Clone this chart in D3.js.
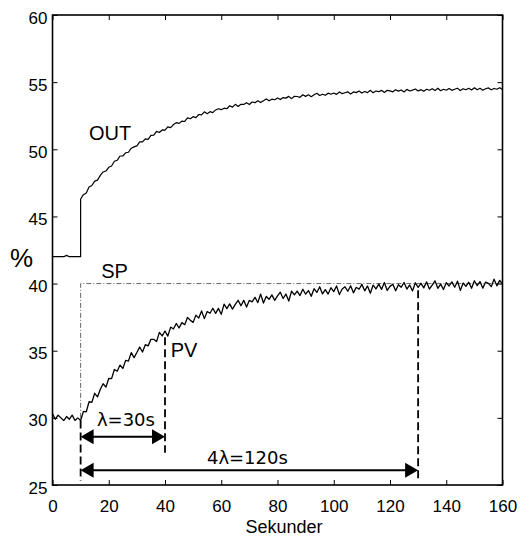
<!DOCTYPE html>
<html>
<head>
<meta charset="utf-8">
<script src="https://cdn.jsdelivr.net/npm/d3@7"></script>
<style>
  html, body { margin: 0; padding: 0; background: #fff; }
  svg { display: block; }
</style>
</head>
<body>
<script>
// ---------------- DATA ----------------
const xTicks = [0, 20, 40, 60, 80, 100, 120, 140, 160];
const yTicks = [25, 30, 35, 40, 45, 50, 55, 60];
const xLabel = "Sekunder";
const yLabel = "%";

// PV, one sample per second, t = 0..10 (before the step)
const pvPre = [30.3, 29.9, 30.2, 30.0, 29.8, 30.1, 29.9, 30.2, 29.8, 30.0, 29.8];
// PV, t = 11..160
const pvPost = [
  30.48,30.44,31.20,31.15,31.83,31.56,32.13,32.54,32.29,32.93,
  32.92,33.60,33.47,33.93,33.68,34.28,34.23,34.86,34.49,34.87,
  35.28,34.90,35.45,35.36,35.85,35.85,35.68,36.37,36.10,36.47,
  36.09,36.76,36.62,37.03,36.69,37.09,36.94,37.48,37.27,37.11,
  37.65,37.43,37.96,37.39,37.92,37.79,38.16,37.78,38.15,37.71,
  38.47,38.13,38.49,38.10,38.45,38.75,38.35,38.75,38.25,38.75,
  38.64,38.98,38.58,39.22,38.55,39.04,38.83,39.16,38.75,39.08,
  39.36,38.89,39.22,38.70,39.43,39.16,39.43,39.11,39.58,39.21,
  39.48,39.05,39.62,39.34,39.76,39.23,39.55,39.22,39.69,39.40,
  39.82,39.18,39.60,39.76,39.43,39.84,39.31,39.72,39.58,39.94,
  39.46,39.82,39.28,39.89,39.60,39.96,39.57,40.08,39.49,39.79,
  39.95,39.46,39.92,39.73,40.08,39.59,39.90,39.45,40.06,39.72,
  40.02,39.68,40.13,39.59,39.89,40.20,39.65,39.96,39.56,40.07,
  39.82,40.13,39.73,40.18,39.49,40.04,39.79,40.10,39.65,40.21,
  39.85,40.15,39.66,40.11,40.02,39.77,40.33,39.83,40.24,39.95
];

// OUT, t = 0..10 (before the step)
const outPre = [42.0, 42.0, 42.0, 42.0, 42.0, 42.1, 42.0, 42.0, 42.0, 42.0, 42.0];
// OUT, t = 10..160 (after the step)
const outPost = [
  46.30,
  46.62,46.75,47.19,47.30,47.63,47.70,48.06,48.31,48.38,48.66,
  48.76,49.11,49.18,49.50,49.50,49.74,49.78,50.08,50.18,50.25,
  50.55,50.55,50.77,50.74,51.03,51.06,51.33,51.25,51.44,51.43,
  51.67,51.61,51.84,51.98,51.93,52.09,52.07,52.34,52.27,52.43,
  52.36,52.59,52.56,52.79,52.65,52.80,52.73,52.93,53.02,52.95,
  53.06,53.02,53.24,53.14,53.35,53.19,53.35,53.34,53.47,53.33,
  53.52,53.47,53.62,53.48,53.62,53.75,53.61,53.73,53.69,53.82,
  53.70,53.85,53.81,53.94,53.77,53.95,53.93,53.87,54.06,53.94,
  54.06,53.92,54.06,54.17,54.01,54.10,54.02,54.18,54.10,54.19,
  54.09,54.27,54.14,54.21,54.28,54.11,54.27,54.22,54.34,54.19,
  54.30,54.22,54.39,54.21,54.34,54.29,54.39,54.23,54.39,54.35,
  54.28,54.44,54.33,54.42,54.27,54.46,54.34,54.41,54.49,54.34,
  54.44,54.33,54.47,54.40,54.51,54.37,54.55,54.36,54.47,54.40,
  54.52,54.39,54.47,54.55,54.37,54.51,54.43,54.54,54.42,54.58,
  54.43,54.54,54.40,54.51,54.57,54.43,54.53,54.47,54.59,54.46
];

// Setpoint: step from 30 to 40 at t = 10
const spTime = [10, 10, 160];
const spValue = [30, 40, 40];

// Vertical dashed markers (time, top value, bottom value)
const markTime = [10, 40, 130];
const markTop = [29.8, 36.0, 39.5];
const markBottom = [25.3, 27.4, 25.5];

// Double arrows (start time, end time, level)
const arrowFrom = [10, 10];
const arrowTo = [40, 130];
const arrowLevel = [28.6, 26.1];
const arrowText = ["λ=30s", "4λ=120s"];
const arrowTextT = [26.1, 69.3];
const arrowTextV = [29.4, 26.55];

// Curve labels
const curveLabels = ["OUT", "SP", "PV"];
const curveLabelT = [13.0, 17.3, 42.0];
const curveLabelV = [50.69, 40.42, 34.53];

// ---------------- LAYOUT ----------------
const W = 522, H = 538;
const mLeft = 52.5, mRight = 502.5, mTop = 15, mBottom = 485;
const FONT = "Liberation Sans, Arial, Helvetica, sans-serif";

const svg = d3.select("body").append("svg")
  .attr("width", W).attr("height", H)
  .style("font-family", FONT);

const x = d3.scaleLinear().domain([0, 160]).range([mLeft, mRight]);
const y = d3.scaleLinear().domain([25, 60]).range([mBottom, mTop]);

// axes (inward ticks, MATLAB style)
const axB = svg.append("g").attr("transform", `translate(0,${mBottom})`)
  .call(d3.axisBottom(x).tickValues(xTicks).tickSizeInner(-5).tickSizeOuter(0).tickPadding(15));
const axL = svg.append("g").attr("transform", `translate(${mLeft},0)`)
  .call(d3.axisLeft(y).tickValues(yTicks).tickSizeInner(-5).tickSizeOuter(0).tickPadding(5));
const axT = svg.append("g").attr("transform", `translate(0,${mTop})`)
  .call(d3.axisTop(x).tickValues(xTicks).tickSizeInner(-5).tickSizeOuter(0).tickFormat(""));
const axR = svg.append("g").attr("transform", `translate(${mRight},0)`)
  .call(d3.axisRight(y).tickValues(yTicks).tickSizeInner(-5).tickSizeOuter(0).tickFormat(""));

[axB, axL, axT, axR].forEach(g => {
  g.select(".domain").remove();
  g.selectAll(".tick line").attr("stroke", "#000").attr("stroke-width", 1);
  g.selectAll("text").attr("fill", "#000").style("font-size", "17px").style("font-family", FONT);
});
axL.selectAll("text").attr("dy", "0.47em");

// frame
svg.append("rect")
  .attr("x", mLeft).attr("y", mTop)
  .attr("width", mRight - mLeft).attr("height", mBottom - mTop)
  .attr("fill", "none").attr("stroke", "#000").attr("stroke-width", 1.6);

// axis titles
svg.append("text").attr("x", 284).attr("y", 533).attr("text-anchor", "middle")
  .style("font-size", "18px").text(xLabel);
svg.append("text").attr("x", 10).attr("y", 267)
  .style("font-size", "26px").text(yLabel);

const line = d3.line().x(d => x(d[0])).y(d => y(d[1]));

// SP
const spPts = spTime.map((t, i) => [t, spValue[i]]);
svg.append("path").attr("d", line(spPts))
  .attr("fill", "none").attr("stroke", "#666").attr("stroke-width", 1)
  .attr("stroke-dasharray", "5,2,1,2");

// OUT
const outPts = outPre.map((v, i) => [i, v]).concat(outPost.map((v, i) => [10 + i, v]));
svg.append("path").attr("d", line(outPts))
  .attr("fill", "none").attr("stroke", "#000").attr("stroke-width", 1.2)
  .attr("stroke-linejoin", "round");

// PV
const pvPts = pvPre.concat(pvPost).map((v, i) => [i, v]);
svg.append("path").attr("d", line(pvPts))
  .attr("fill", "none").attr("stroke", "#000").attr("stroke-width", 1.3)
  .attr("stroke-linejoin", "round");

// vertical dashed markers
markTime.forEach((t, i) => {
  svg.append("line")
    .attr("x1", x(t)).attr("x2", x(t))
    .attr("y1", y(markTop[i])).attr("y2", y(markBottom[i]))
    .attr("stroke", "#000").attr("stroke-width", 1.8)
    .attr("stroke-dasharray", "8,4");
});

// double arrows
const headL = 13, headW = 7.5;
arrowFrom.forEach((t0, i) => {
  const x0 = x(t0), x1 = x(arrowTo[i]), yy = y(arrowLevel[i]);
  svg.append("line").attr("x1", x0 + headL - 1).attr("x2", x1 - headL + 1)
    .attr("y1", yy).attr("y2", yy).attr("stroke", "#000").attr("stroke-width", 2);
  svg.append("path").attr("d", `M${x0},${yy}L${x0 + headL},${yy - headW}L${x0 + headL},${yy + headW}Z`).attr("fill", "#000");
  svg.append("path").attr("d", `M${x1},${yy}L${x1 - headL},${yy - headW}L${x1 - headL},${yy + headW}Z`).attr("fill", "#000");
  svg.append("text").attr("x", x(arrowTextT[i])).attr("y", y(arrowTextV[i]))
    .attr("text-anchor", "middle")
    .style("font-family", "DejaVu Sans, sans-serif").style("font-size", "18px")
    .text(arrowText[i]);
});

// curve labels
curveLabels.forEach((s, i) => {
  svg.append("text").attr("x", x(curveLabelT[i])).attr("y", y(curveLabelV[i]))
    .style("font-size", "20px").text(s);
});
</script>
</body>
</html>
